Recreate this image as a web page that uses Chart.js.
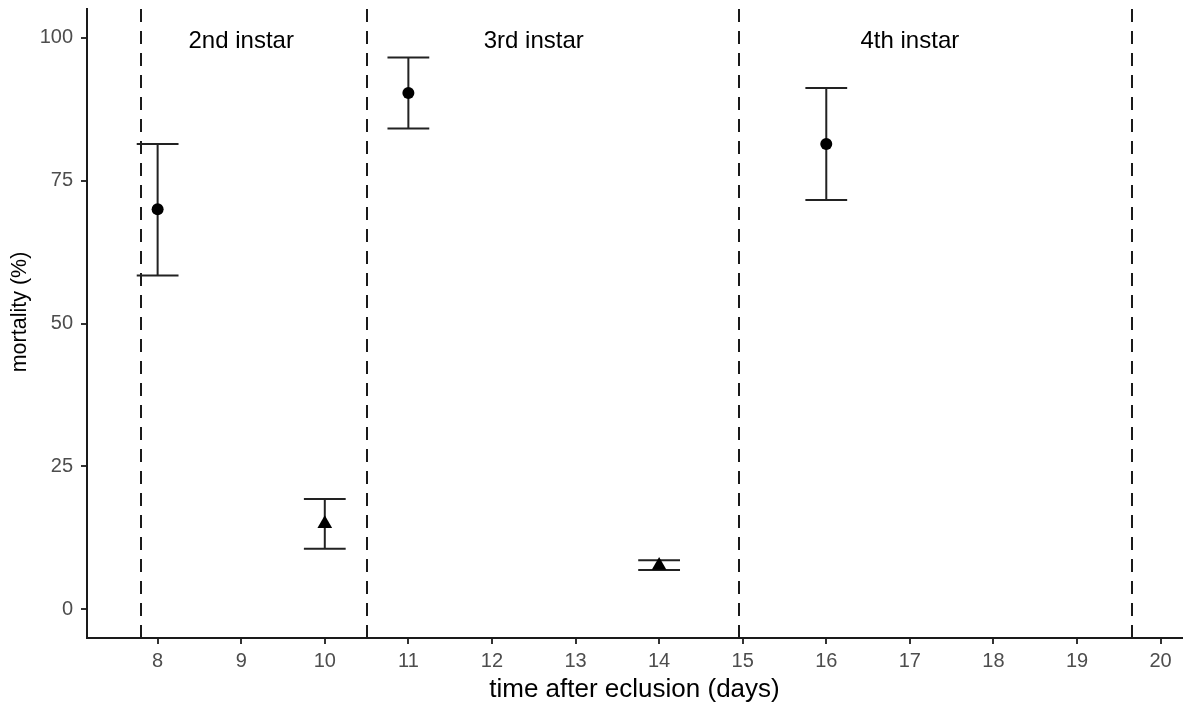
<!DOCTYPE html>
<html>
<head>
<meta charset="utf-8">
<title>mortality by instar</title>
<script src="https://cdn.jsdelivr.net/npm/chart.js@4/dist/chart.umd.min.js"></script>
<style>
  body { margin: 0; background: #fff; }
  canvas { display: block; }
</style>
</head>
<body>
<canvas id="graph" width="1192" height="705"></canvas>
<script>
// sampling days and mortality (%) with interval bounds
var days = [8, 10, 11, 14, 16];
var mortality = [70, 15, 90.3, 7.7, 81.4];
var lowerCI = [58.4, 10.6, 84.1, 6.9, 71.6];
var upperCI = [81.4, 19.3, 96.5, 8.6, 91.2];
var markerShape = ['circle', 'triangle', 'circle', 'triangle', 'circle'];

// moult days separating the instars
var instarBreaks = [7.8, 10.5, 14.95, 19.66];
var instarLabels = ['2nd instar', '3rd instar', '4th instar'];
var instarLabelX = [9, 12.5, 17];
var instarLabelY = 100;

var xTicks = [8, 9, 10, 11, 12, 13, 14, 15, 16, 17, 18, 19, 20];
var yTicks = [0, 25, 50, 75, 100];

var FONT = "'Liberation Sans', Arial, Helvetica, sans-serif";
var capHalf = 0.25; // half width of the error bar caps, in days

var points = days.map(function (d, i) {
  return { x: d, y: mortality[i] };
});

var guides = {
  id: 'guides',
  beforeDatasetsDraw: function (chart) {
    var ctx = chart.ctx;
    var xs = chart.scales.x, ys = chart.scales.y;
    var area = chart.chartArea;
    ctx.save();
    // dashed instar boundaries
    ctx.strokeStyle = '#1a1a1a';
    ctx.lineWidth = 2;
    ctx.setLineDash([13, 9]);
    instarBreaks.forEach(function (b) {
      var px = Math.round(xs.getPixelForValue(b));
      ctx.beginPath();
      ctx.moveTo(px, area.top);
      ctx.lineTo(px, area.bottom);
      ctx.stroke();
    });
    // error bars
    ctx.setLineDash([]);
    ctx.strokeStyle = '#222';
    days.forEach(function (d, i) {
      var px = xs.getPixelForValue(d);
      var x0 = xs.getPixelForValue(d - capHalf);
      var x1 = xs.getPixelForValue(d + capHalf);
      var lo = ys.getPixelForValue(lowerCI[i]);
      var hi = ys.getPixelForValue(upperCI[i]);
      ctx.beginPath();
      ctx.moveTo(px, lo); ctx.lineTo(px, hi);
      ctx.moveTo(x0, lo); ctx.lineTo(x1, lo);
      ctx.moveTo(x0, hi); ctx.lineTo(x1, hi);
      ctx.stroke();
    });
    ctx.restore();
  },
  afterDatasetsDraw: function (chart) {
    var ctx = chart.ctx;
    var xs = chart.scales.x, ys = chart.scales.y;
    ctx.save();
    ctx.fillStyle = '#000';
    ctx.font = '24px ' + FONT;
    ctx.textAlign = 'center';
    ctx.textBaseline = 'middle';
    instarLabels.forEach(function (t, i) {
      ctx.fillText(t, xs.getPixelForValue(instarLabelX[i]), ys.getPixelForValue(instarLabelY) + 4);
    });
    // y axis title, sits a little above the panel middle
    ctx.font = '21.5px ' + FONT;
    ctx.translate(20, 312);
    ctx.rotate(-Math.PI / 2);
    ctx.fillText('mortality (%)', 0, 0);
    ctx.restore();
  }
};

var config = {
  type: 'scatter',
  data: {
    datasets: [{
      label: 'mortality',
      data: points,
      backgroundColor: '#000',
      borderColor: '#000',
      borderWidth: 0,
      pointStyle: function (c) { return markerShape[c.dataIndex]; },
      pointRadius: function (c) { return markerShape[c.dataIndex] === 'triangle' ? 8.5 : 6; }
    }]
  },
  options: {
    responsive: false,
    animation: false,
    layout: { padding: { top: 9, right: 10, left: 0, bottom: 0 } },
    plugins: {
      legend: { display: false },
      tooltip: { enabled: false }
    },
    scales: {
      x: {
        type: 'linear',
        min: 7.155,
        max: 20.256,
        afterBuildTicks: function (s) { s.ticks = xTicks.map(function (v) { return { value: v }; }); },
        afterFit: function (s) { s.height = 67; s.paddingLeft = 0; s.paddingRight = 0; },
        border: { display: true, color: '#1a1a1a', width: 2 },
        grid: { drawOnChartArea: false, drawTicks: true, tickLength: 6, color: '#333', lineWidth: 2 },
        ticks: {
          color: '#4d4d4d',
          font: { family: FONT, size: 20 },
          padding: 5,
          maxRotation: 0,
          autoSkip: false,
          callback: function (v) { return String(v); }
        },
        title: {
          display: true,
          text: 'time after eclusion (days)',
          color: '#000',
          font: { family: FONT, size: 26 },
          padding: { top: 0, bottom: 0 }
        }
      },
      y: {
        type: 'linear',
        min: -5,
        max: 105,
        afterBuildTicks: function (s) { s.ticks = yTicks.map(function (v) { return { value: v }; }); },
        afterFit: function (s) { s.width = 87; s.paddingTop = 0; s.paddingBottom = 0; },
        border: { display: true, color: '#1a1a1a', width: 2 },
        grid: { drawOnChartArea: false, drawTicks: true, tickLength: 6, color: '#333', lineWidth: 2 },
        ticks: {
          color: '#4d4d4d',
          font: { family: FONT, size: 20 },
          padding: 8,
          autoSkip: false,
          callback: function (v) { return String(v); }
        }
      }
    }
  },
  plugins: [guides]
};

var graph = new Chart(document.getElementById('graph'), config);
</script>
</body>
</html>
